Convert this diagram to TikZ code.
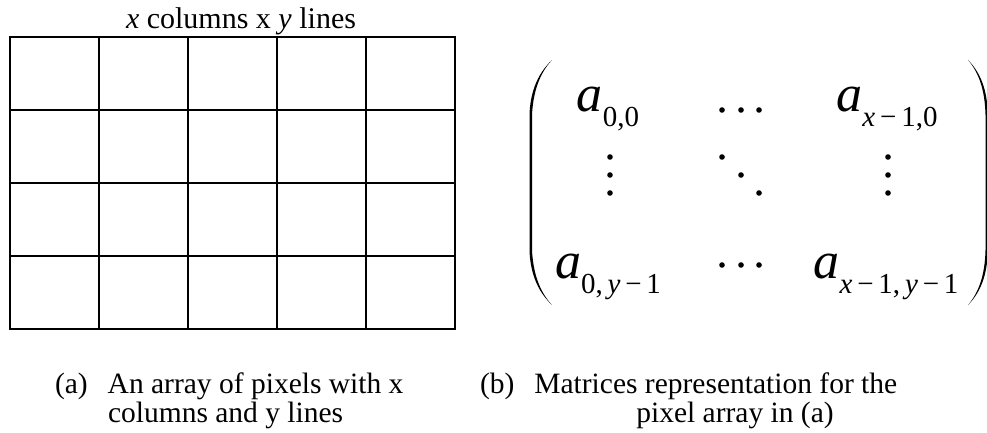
\documentclass[tikz,border=0pt]{standalone}
\usepackage{fontspec}
\setmainfont{Liberation Serif}
\newcommand{\capfont}{\fontsize{29.5}{29.5}\selectfont}
\newcommand{\titfont}{\fontsize{30}{30}\selectfont}
\newcommand{\bigA}{{\fontsize{52}{52}\selectfont\itshape a\/}}
\newcommand{\subf}[1]{\raisebox{-15pt}{\fontsize{29}{29}\selectfont #1}}
\begin{document}
\begin{tikzpicture}[x=1pt,y=-1pt,
  txt/.style={inner sep=0pt,outer sep=0pt,font=\capfont},
  ent/.style={inner sep=0pt,outer sep=0pt,anchor=base},
  gridline/.style={line width=2.6pt,line cap=rect},
  dotf/.style={fill=black}]
\useasboundingbox (0,0) rectangle (987,433);
% grid
\draw[gridline] (10,37) rectangle (455,329);
\foreach \xx in {99,188,277,366} \draw[gridline] (\xx,37) -- (\xx,329);
\foreach \yy in {110,183,256} \draw[gridline] (10,\yy) -- (455,\yy);
% title
\node[txt,anchor=base,font=\titfont] (title) at (241,29) {\textit{x} columns x \textit{y} lines};
% matrix entries
\node[ent] (a00) at (608,112) {\bigA\subf{0,0}};
\node[ent] (ax0) at (887,112) {\bigA\subf{\textit{x}\,−\,1,0}};
\node[ent] (a0y) at (608,278) {\bigA\subf{0,\,\textit{y}\,−\,1}};
\node[ent] (axy) at (886,278) {\bigA\subf{\textit{x}\,−\,1,\,\textit{y}\,−\,1}};
% dots
\foreach \px/\py in {722/110,741/110,759/110, 722/265,741/265,759/265,
  610/157,610/175,610/193, 722/157,741/175,759/193, 888/157,888/175,888/193}
  \fill[dotf] (\px,\py) circle (2.8);
% parentheses
\fill (552,60) .. controls (538,75) and (533,95) .. (532,115) -- (532,250)
  .. controls (533,270) and (538,290) .. (552,305)
  .. controls (536,290) and (530,270) .. (529.5,250) -- (529.5,115)
  .. controls (530,95) and (536,75) .. (552,60) -- cycle;
\fill (968,60) .. controls (981,75) and (985,95) .. (985.5,115) -- (985.5,250)
  .. controls (985,270) and (981,290) .. (968,305)
  .. controls (983,290) and (987.5,270) .. (987.8,250) -- (987.8,115)
  .. controls (987.5,95) and (983,75) .. (968,60) -- cycle;
% captions
\node[txt,anchor=base west] (capa1) at (55,393) {(a)\hspace{20pt}An array of pixels with x};
\node[txt,anchor=base west] (capa2) at (108,422) {columns and y lines};
\node[txt,anchor=base west] (capb1) at (480,393) {(b)\hspace{20pt}Matrices representation for the};
\node[txt,anchor=base] (capb2) at (735,422) {pixel array in (a)};
\end{tikzpicture}
\end{document}
